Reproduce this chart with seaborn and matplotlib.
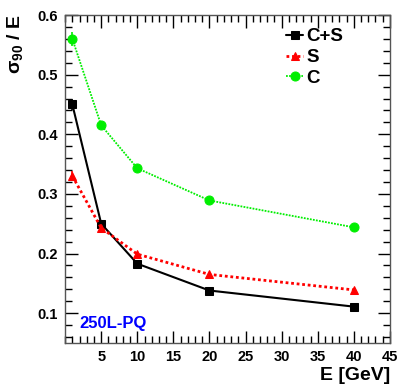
import numpy as np
import pandas as pd
import matplotlib
matplotlib.use("Agg")
import matplotlib.pyplot as plt
import seaborn as sns
from matplotlib.ticker import MultipleLocator

# energies in GeV
energy = [1, 5, 10, 20, 40]

# sigma90/E per configuration
res_cs = [0.450, 0.250, 0.183, 0.138, 0.111]
res_s = [0.330, 0.243, 0.199, 0.165, 0.139]
res_c = [0.560, 0.415, 0.343, 0.289, 0.244]

# errors (only visible at low E)
err_cs = [0.010, 0.005, 0.004, 0.003, 0.003]
err_s = [0.009, 0.004, 0.003, 0.003, 0.003]
err_c = [0.012, 0.005, 0.004, 0.004, 0.004]

labels = ["C+S", "S", "C"]

sns.set_style("ticks")
plt.rcParams['font.family'] = ['Liberation Sans', 'DejaVu Sans']
plt.rcParams['font.weight'] = 'bold'
plt.rcParams['text.color'] = 'black'
plt.rcParams['xtick.color'] = 'black'
plt.rcParams['ytick.color'] = 'black'
plt.rcParams['mathtext.fontset'] = 'custom'
plt.rcParams['mathtext.rm'] = 'Liberation Sans'
plt.rcParams['mathtext.it'] = 'Liberation Sans'
plt.rcParams['mathtext.bf'] = 'Liberation Sans:bold'

fig = plt.figure(figsize=(4.07, 3.9), dpi=100)
ax = fig.add_axes([0.160, 0.1205, 0.798, 0.841])

series = [
    (res_cs, err_cs, labels[0], "black", "-", "s", 5.5, 1.5),
    (res_s, err_s, labels[1], "#ff0000", (0, (1, 1)), "^", 6, 2.0),
    (res_c, err_c, labels[2], "#00ee00", (0, (1, 0.7)), "o", 6.5, 1.3),
]

for vals, errs, lab, col, ls, mk, ms, lw in series:
    df = pd.DataFrame({"E": energy, "res": vals})
    ax.errorbar(energy, vals, yerr=errs, fmt="none", ecolor=col, elinewidth=1.2, capsize=0)
    sns.lineplot(data=df, x="E", y="res", ax=ax, color=col, linestyle=ls, linewidth=lw,
                 marker=mk, markersize=ms, markeredgecolor=col, label=lab)

ax.set_xlim(0, 45)
ax.set_ylim(0.05, 0.6)
ax.xaxis.set_major_locator(MultipleLocator(5))
ax.xaxis.set_minor_locator(MultipleLocator(1))
ax.yaxis.set_major_locator(MultipleLocator(0.1))
ax.yaxis.set_minor_locator(MultipleLocator(0.02))
ax.set_xticks([5, 10, 15, 20, 25, 30, 35, 40, 45])
ax.set_yticks([0.1, 0.2, 0.3, 0.4, 0.5, 0.6])
ax.tick_params(which="both", direction="in", top=True, right=True, labelsize=10.5, width=1, pad=5,
               colors="black", labelcolor="black")
ax.tick_params(which="major", length=9)
ax.tick_params(which="minor", length=5)
for s in ax.spines.values():
    s.set_linewidth(1)
    s.set_color("#555555")
for t in ax.get_xticklabels() + ax.get_yticklabels():
    t.set_fontweight("bold")

ax.set_xlabel("")
ax.set_ylabel("")
fig.text(0.958, 0.015, "E [GeV]", ha="right", va="bottom", fontsize=14, fontweight="bold")
fig.text(0.012, 0.962, r"$\mathrm{\sigma}_{\mathbf{90}}$ / E", rotation=90, ha="left", va="top",
         fontsize=14, fontweight="bold")
ax.text(0.045, 0.045, "250L-PQ", transform=ax.transAxes, color="#0000ff",
        fontsize=12, fontweight="bold")

leg = ax.legend(loc="upper left", bbox_to_anchor=(0.64, 1.0), frameon=False,
                fontsize=13.5, handlelength=0.9, handletextpad=0.2, labelspacing=0.2,
                borderaxespad=0.3)
for t in leg.get_texts():
    t.set_fontweight("bold")
    t.set_color("black")

fig.savefig("out.png", dpi=100)
